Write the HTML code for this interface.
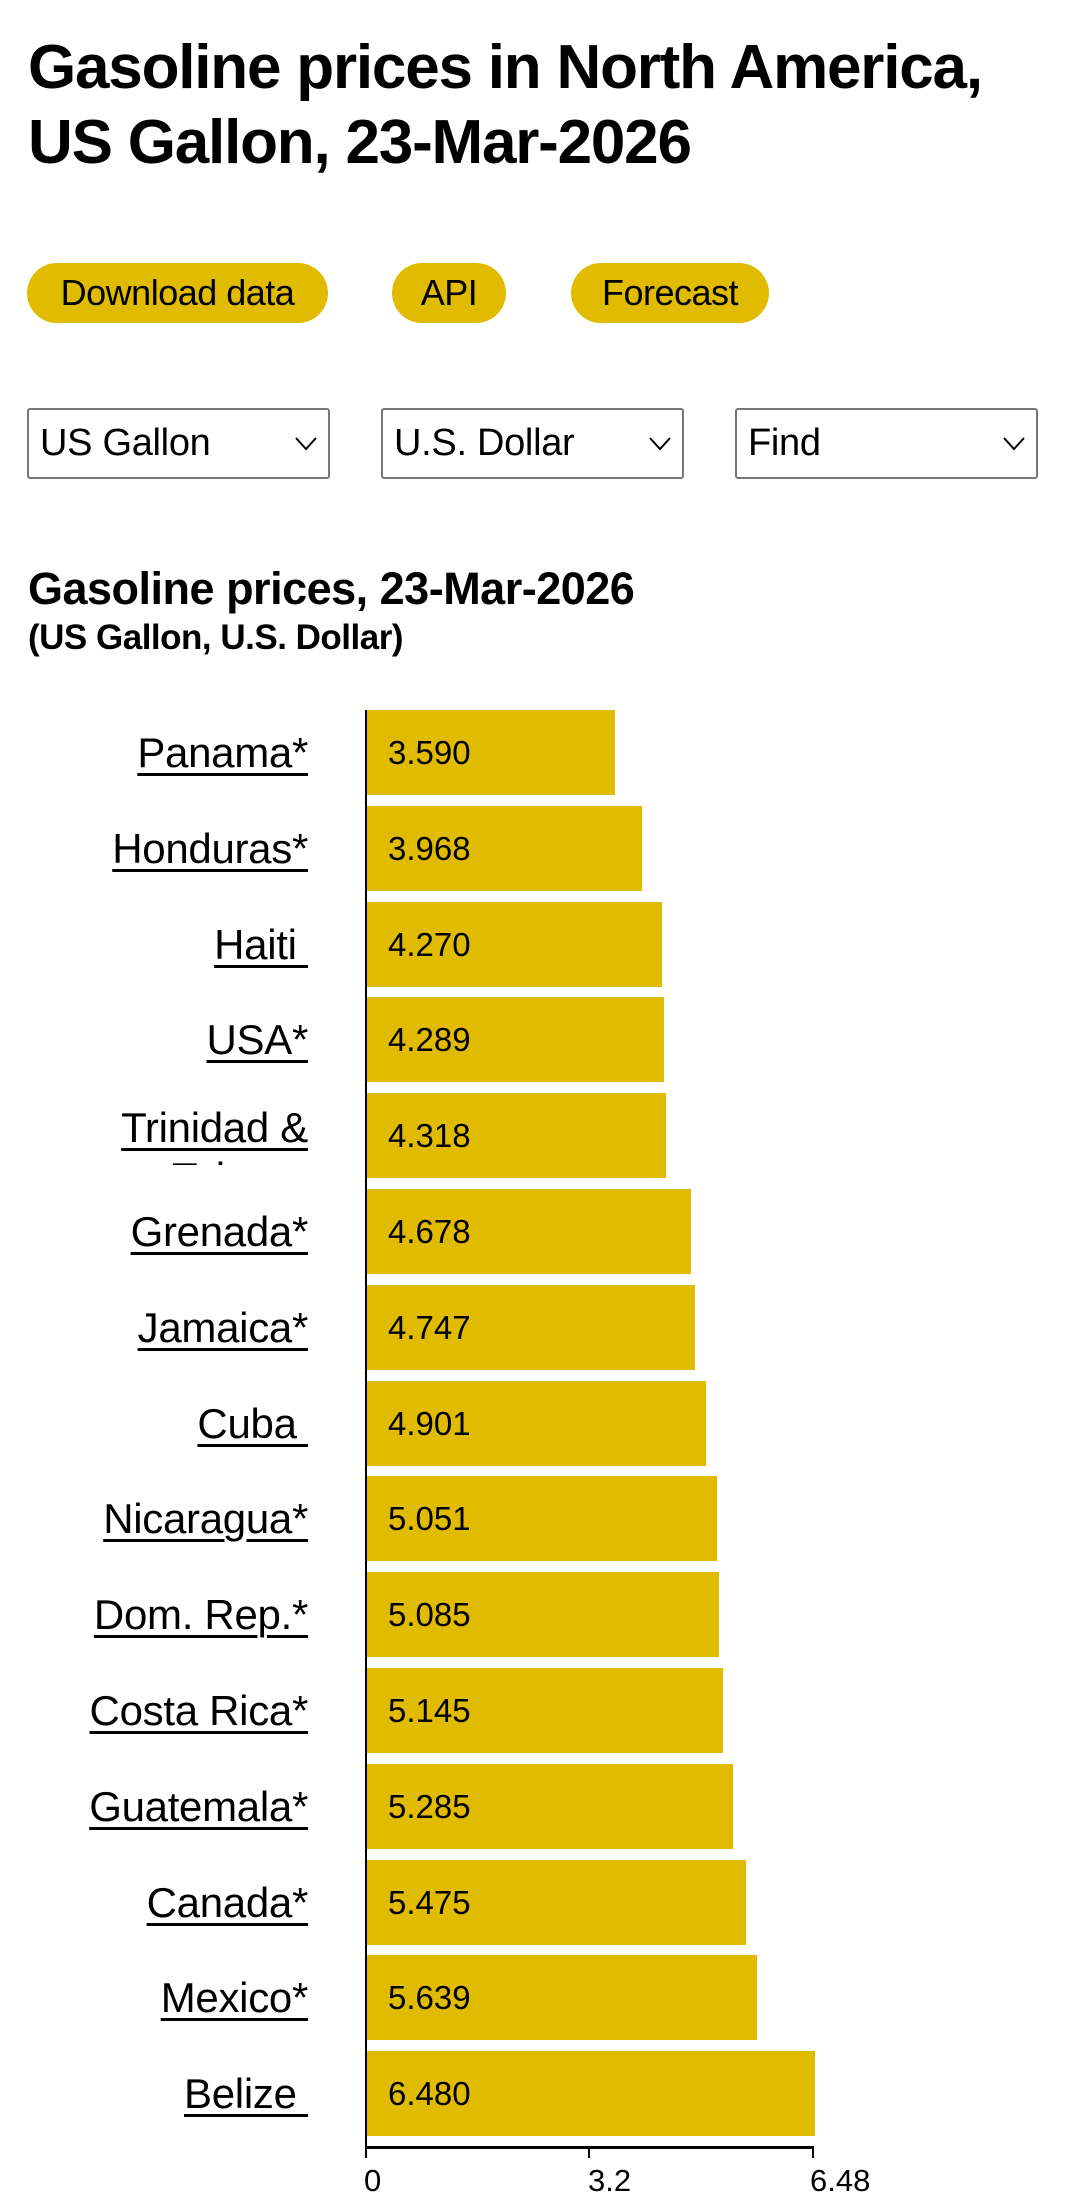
<!DOCTYPE html>
<html><head><meta charset="utf-8">
<style>
*{margin:0;padding:0;box-sizing:border-box}
body{width:1080px;height:2203px;background:#fff;font-family:"Liberation Sans",sans-serif;color:#000;position:relative;overflow:hidden}
.abs{position:absolute;white-space:nowrap}
h1{position:absolute;left:28px;top:30px;font-size:62px;line-height:75px;font-weight:bold;letter-spacing:-1.2px;white-space:nowrap}
.btn{position:absolute;top:263px;height:60px;background:#e1bb00;border-radius:30px;font-size:36px;line-height:60px;text-align:center;letter-spacing:-0.5px}
.sel{position:absolute;top:408px;height:71px;width:303px;border:2px solid #777;border-radius:3px;font-size:38px;line-height:67px;padding-left:11px;letter-spacing:-0.3px}
.sel svg{position:absolute;right:10px;top:26px}
.bar{position:absolute;left:367px;height:85px;background:#e1bb00}
.val{position:absolute;left:388px;font-size:33px;line-height:85px}
.lab{position:absolute;right:772px;font-size:42px;text-decoration:underline;text-decoration-thickness:3px;text-underline-offset:6px;white-space:nowrap;letter-spacing:-0.3px}
.tick{position:absolute;font-size:31px}
</style></head><body>
<h1>Gasoline prices in North America,<br>US Gallon, 23-Mar-2026</h1>
<div class="btn" style="left:27px;width:301px">Download data</div>
<div class="btn" style="left:392px;width:114px">API</div>
<div class="btn" style="left:571px;width:198px">Forecast</div>
<div class="sel" style="left:27px">US Gallon<svg width="24" height="16"><polyline points="2,2 12,13 22,2" fill="none" stroke="#000" stroke-width="2"/></svg></div>
<div class="sel" style="left:381px">U.S. Dollar<svg width="24" height="16"><polyline points="2,2 12,13 22,2" fill="none" stroke="#000" stroke-width="2"/></svg></div>
<div class="sel" style="left:735px">Find<svg width="24" height="16"><polyline points="2,2 12,13 22,2" fill="none" stroke="#000" stroke-width="2"/></svg></div>
<div class="abs" style="left:28px;top:563px;font-size:45px;font-weight:bold;letter-spacing:-0.5px">Gasoline prices, 23-Mar-2026</div>
<div class="abs" style="left:28px;top:618px;font-size:35px;font-weight:bold;letter-spacing:-0.5px">(US Gallon, U.S. Dollar)</div>

<div style="position:absolute;left:365px;top:710px;width:2px;height:1440px;background:#000"></div>
<div style="position:absolute;left:365px;top:2146px;width:449px;height:3px;background:#000"></div>
<div style="position:absolute;left:365px;top:2146px;width:2px;height:12px;background:#000"></div>
<div style="position:absolute;left:588px;top:2146px;width:2px;height:12px;background:#000"></div>
<div style="position:absolute;left:812px;top:2146px;width:2px;height:12px;background:#000"></div>
<div class="tick" style="left:364px;top:2163px">0</div>
<div class="tick" style="left:588px;top:2163px">3.2</div>
<div class="tick" style="left:810px;top:2163px">6.48</div>

<div id="c"></div>
<script>
var d=[["Panama*",3.590],["Honduras*",3.968],["Haiti&nbsp;",4.270],["USA*",4.289],["Trinidad &amp;",4.318],["Grenada*",4.678],["Jamaica*",4.747],["Cuba&nbsp;",4.901],["Nicaragua*",5.051],["Dom. Rep.*",5.085],["Costa Rica*",5.145],["Guatemala*",5.285],["Canada*",5.475],["Mexico*",5.639],["Belize&nbsp;",6.480]];
var h="";
for(var i=0;i<d.length;i++){var t=710+i*95.8;var w=d[i][1]*69.2;
h+='<div class="bar" style="top:'+t+'px;width:'+w+'px"></div>';
h+='<div class="val" style="top:'+t+'px">'+d[i][1].toFixed(3)+'</div>';
if(i==4){h+='<div class="lab" style="top:'+(t+10)+'px;line-height:50px;height:62px;overflow:hidden;text-align:right">Trinidad &amp;<br>Tobago</div>';}
else h+='<div class="lab" style="top:'+(t+18)+'px;line-height:50px">'+d[i][0]+'</div>';}
document.getElementById("c").innerHTML=h;
</script>
</body></html>
